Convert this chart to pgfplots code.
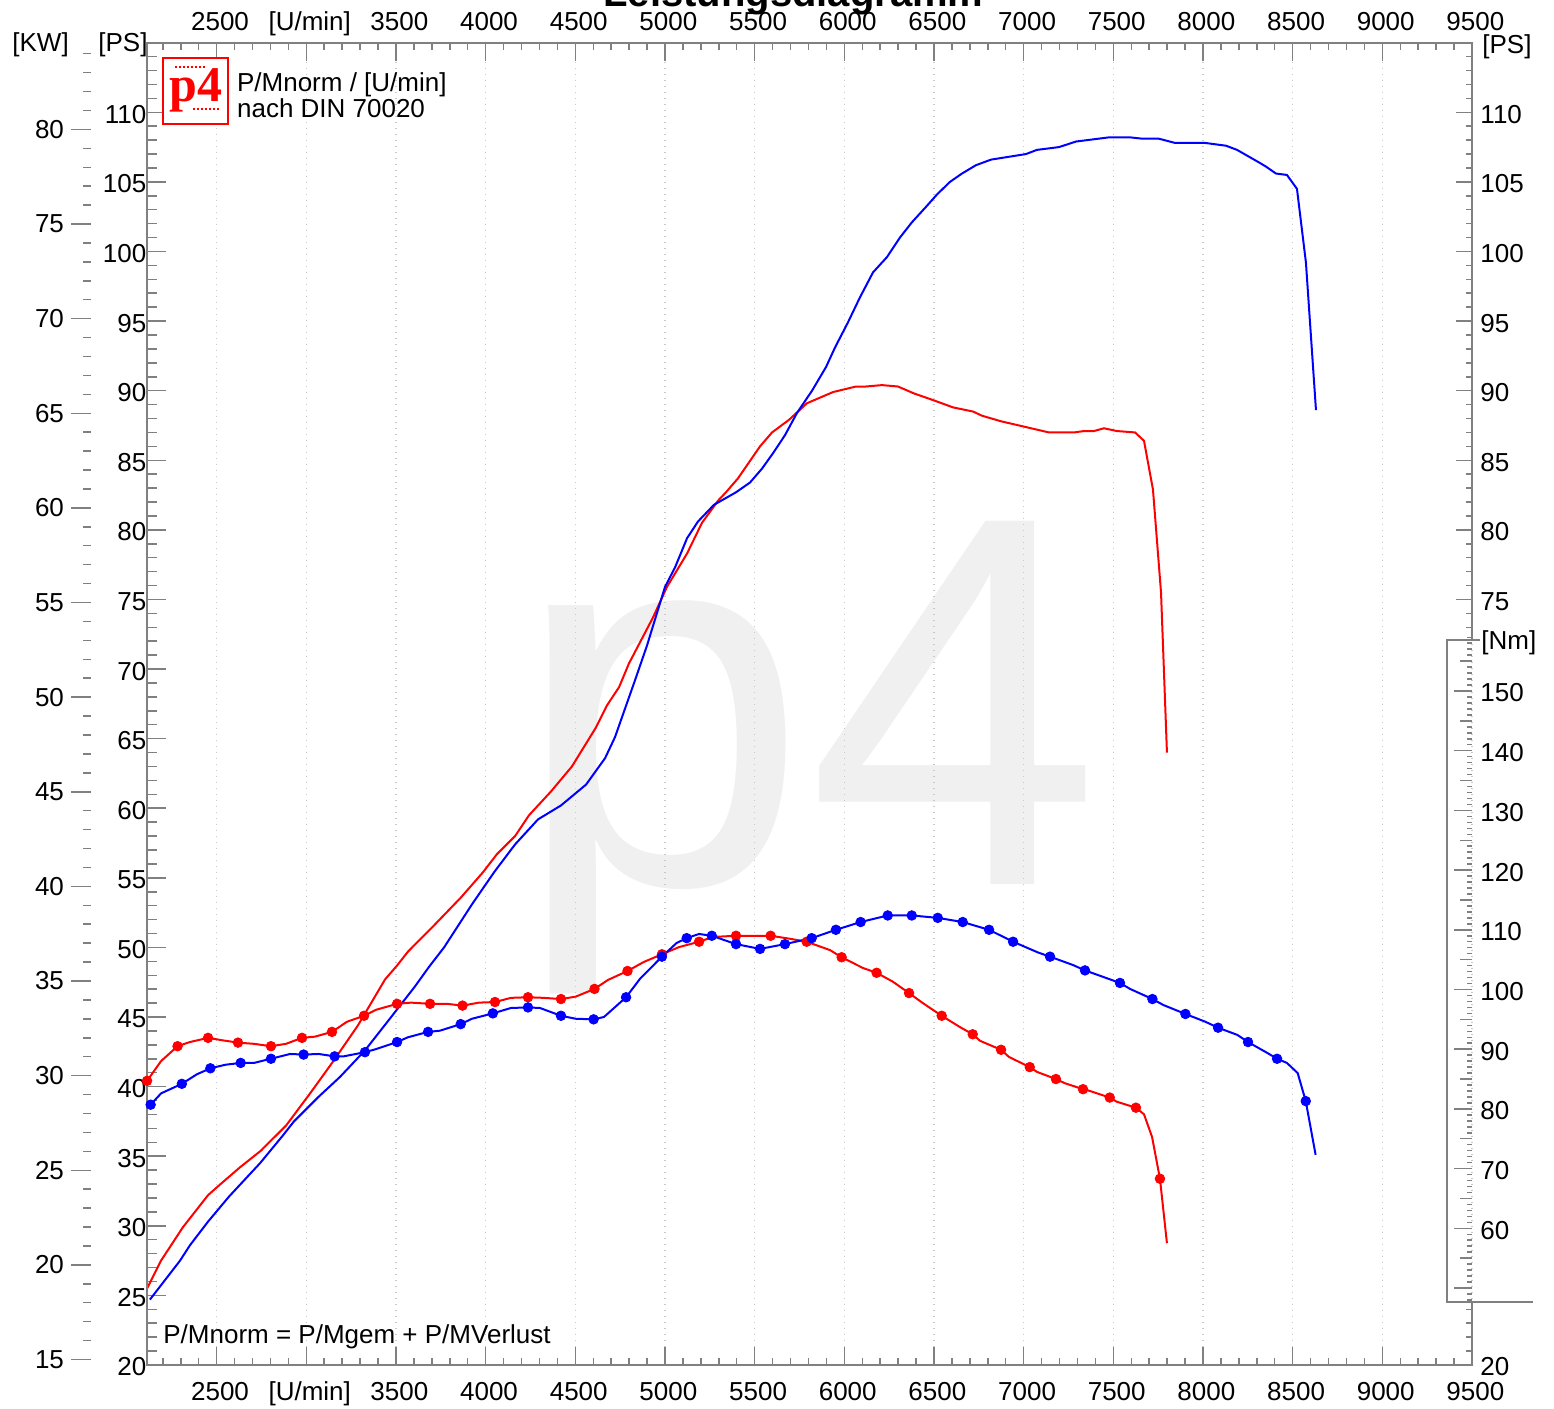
\documentclass[border=0pt]{standalone}
\usepackage{pgfplots}
\pgfplotsset{compat=1.18}
\usepackage{fontspec}
\setmainfont{Liberation Sans}
\newfontfamily\logofont{Liberation Serif}
\definecolor{axgray}{RGB}{128,128,128}
\definecolor{gridgray}{RGB}{200,200,200}
\definecolor{wm}{RGB}{240,240,240}
\definecolor{pblue}{RGB}{0,0,255}
\definecolor{pred}{RGB}{255,0,0}

\pgfplotsset{
  base/.style={
    scale only axis, width=662.65pt, height=661.15pt,
    at={(0,0)}, anchor=south west,
    xmin=2110, xmax=9500,
    axis line style={draw=none},
    tick style={axgray, line width=0.75pt},
    tick align=inside,
    font=\fontsize{13}{15}\selectfont,
    /pgf/number format/assume math mode=true,
    clip=false,
  },
  rpmticks/.style={
    xtick={2500,3000,...,9500},
    xticklabels={2500,{[U/min]},3500,4000,4500,5000,5500,6000,6500,7000,7500,8000,8500,9000,9500},
    minor xtick={2200,2300,...,9400},
    major tick length=9pt, minor tick length=3.5pt,
  },
}

\begin{document}
\begin{tikzpicture}
% watermark
\node[anchor=base west, inner sep=0, text=wm, font=\fontsize{264}{264}\selectfont] at (183.5pt,240pt) {p4};

% bottom rpm axis with grid
\begin{axis}[base, rpmticks, ymin=20, ymax=115, hide y axis,
  axis x line*=bottom,
  xmajorgrids, grid style={gridgray, dash pattern=on 0.6pt off 2.4pt, line width=0.6pt},
  xticklabel style={text height=9.5pt, text depth=0pt, yshift=-4.5pt, xshift=1.7pt}]
\end{axis}

% top rpm axis
\begin{axis}[base, rpmticks, ymin=20, ymax=115, hide y axis,
  axis x line*=top,
  xticklabel style={text height=9.5pt, text depth=0pt, yshift=2.4pt, xshift=1.7pt}]
\end{axis}

% left PS axis with power curves
\begin{axis}[base, ymin=20, ymax=115, hide x axis,
  axis y line*=left,
  ytick={20,25,...,110}, minor ytick={21,22,...,114},
  major tick length=9.5pt, minor tick length=5pt,
  yticklabel style={xshift=3.3pt, yshift=-1pt}]
\addplot[pred, line width=1pt] coordinates {
(2112,25.5)(2190,27.5)(2312,29.9)(2452,32.2)(2513,32.9)(2630,34.2)(2747,35.4)(2809,36.2)(2887,37.2)(3026,39.6)(3149,41.8)(3288,44.4)(3439,47.7)(3506,48.7)(3567,49.7)(3706,51.5)(3863,53.6)(3985,55.4)(4063,56.7)(4164,58.0)(4242,59.5)(4364,61.2)(4481,63.0)(4615,65.8)(4677,67.4)(4744,68.7)(4799,70.4)(4933,73.7)(5011,75.9)(5123,78.3)(5206,80.5)(5296,82.1)(5340,82.7)(5407,83.7)(5530,86.0)(5597,87.0)(5691,87.9)(5792,89.1)(5937,89.9)(6065,90.3)(6121,90.3)(6210,90.4)(6299,90.3)(6389,89.8)(6500,89.3)(6606,88.8)(6718,88.5)(6768,88.2)(6874,87.8)(6941,87.6)(7041,87.3)(7141,87.0)(7281,87.0)(7336,87.1)(7392,87.1)(7448,87.3)(7520,87.1)(7621,87.0)(7671,86.4)(7721,82.9)(7766,75.5)(7799,64.0)
};
\addplot[pblue, line width=1pt] coordinates {
(2128,24.7)(2212,26.1)(2296,27.5)(2351,28.6)(2452,30.3)(2569,32.1)(2742,34.5)(2870,36.5)(2931,37.5)(3071,39.3)(3188,40.7)(3327,42.6)(3467,44.9)(3606,47.2)(3684,48.6)(3768,50.0)(3924,53.1)(4047,55.4)(4164,57.4)(4292,59.2)(4420,60.2)(4560,61.7)(4666,63.6)(4721,65.1)(4833,69.2)(4900,71.7)(5000,75.9)(5056,77.3)(5123,79.4)(5184,80.6)(5273,81.8)(5396,82.7)(5474,83.4)(5541,84.4)(5602,85.5)(5669,86.8)(5736,88.4)(5820,90.0)(5898,91.7)(5948,93.1)(6020,94.9)(6087,96.7)(6160,98.5)(6238,99.6)(6310,101.0)(6377,102.1)(6455,103.2)(6517,104.1)(6589,105.0)(6656,105.6)(6734,106.2)(6818,106.6)(7013,107.0)(7074,107.3)(7197,107.5)(7292,107.9)(7476,108.2)(7593,108.2)(7665,108.1)(7755,108.1)(7844,107.8)(8011,107.8)(8128,107.6)(8190,107.3)(8312,106.4)(8351,106.1)(8407,105.6)(8468,105.5)(8524,104.5)(8574,99.2)(8630,88.6)
};
\end{axis}

% right PS axis
\begin{axis}[base, ymin=20, ymax=115, hide x axis,
  axis y line*=right,
  ytick={20,75,80,...,110}, minor ytick={21,22,23,24,73,74,...,114},
  major tick length=8pt, minor tick length=3pt,
  yticklabel style={xshift=0.7pt, yshift=-1pt}]
\end{axis}

% torque axis (Nm) with torque curves
\begin{axis}[base, ymin=37.1, ymax=258.6, hide x axis,
  axis y line*=right,
  ytick={50,60,...,150}, yticklabels={,60,70,80,90,100,110,120,130,140,150},
  minor ytick={48,49,...,159},
  extra y ticks={55,65,...,155}, extra y tick labels={},
  extra y tick style={major tick length=6pt},
  major tick length=9pt, minor tick length=2.5pt,
  yticklabel style={xshift=0.7pt, yshift=-1pt}]
\addplot[pred, line width=1pt] coordinates {
(2112,84.7)(2190,88.0)(2282,90.5)(2351,91.2)(2452,91.9)(2530,91.5)(2619,91.1)(2708,90.9)(2803,90.5)(2887,90.9)(2976,91.9)(3048,92.1)(3143,92.9)(3227,94.6)(3322,95.6)(3389,96.6)(3506,97.6)(3584,97.8)(3690,97.6)(3784,97.6)(3871,97.3)(3963,97.8)(4052,97.9)(4141,98.6)(4236,98.7)(4323,98.6)(4420,98.4)(4502,98.8)(4607,100.1)(4682,101.6)(4791,103.1)(4881,104.6)(4983,105.9)(5078,107.1)(5190,108.0)(5268,108.8)(5396,109.0)(5491,109.0)(5589,109.0)(5697,108.5)(5790,108.0)(5920,106.6)(5985,105.4)(6104,103.6)(6180,102.8)(6271,101.3)(6361,99.4)(6439,97.7)(6543,95.6)(6645,93.7)(6716,92.5)(6757,91.4)(6874,89.9)(6918,88.7)(7034,87.0)(7074,86.2)(7180,85.0)(7230,84.3)(7331,83.3)(7370,83.0)(7480,81.9)(7519,81.2)(7626,80.2)(7671,79.1)(7716,75.3)(7760,68.3)(7799,57.5)
};
\addplot[only marks, mark=*, mark size=2.4pt, pred] coordinates {
(2112,84.7)(2282,90.5)(2452,91.9)(2619,91.1)(2803,90.5)(2976,91.9)(3143,92.9)(3322,95.6)(3506,97.6)(3690,97.6)(3871,97.3)(4052,97.9)(4236,98.7)(4420,98.4)(4607,100.1)(4791,103.1)(4983,105.9)(5190,108.0)(5396,109.0)(5589,109.0)(5790,108.0)(5985,105.4)(6180,102.8)(6361,99.4)(6543,95.6)(6716,92.5)(6874,89.9)(7034,87.0)(7180,85.0)(7331,83.3)(7480,81.9)(7626,80.2)(7760,68.3)
};
\addplot[pblue, line width=1pt] coordinates {
(2132,80.7)(2190,82.6)(2306,84.2)(2390,85.8)(2465,86.8)(2550,87.4)(2634,87.7)(2708,87.7)(2803,88.4)(2909,89.2)(2985,89.1)(3069,89.2)(3158,88.8)(3208,88.8)(3327,89.5)(3387,90.0)(3506,91.2)(3567,92.0)(3679,92.9)(3745,93.1)(3861,94.2)(3924,95.1)(4040,96.0)(4141,96.9)(4236,97.0)(4303,96.9)(4420,95.6)(4502,95.1)(4602,95.0)(4660,95.4)(4783,98.7)(4861,101.8)(4983,105.5)(5065,107.8)(5121,108.6)(5190,109.3)(5261,109.0)(5396,107.6)(5530,106.8)(5669,107.6)(5818,108.6)(5953,110.0)(6091,111.3)(6242,112.4)(6376,112.4)(6521,112.0)(6660,111.3)(6807,110.0)(6941,108.0)(7080,106.2)(7147,105.5)(7275,104.1)(7342,103.2)(7537,101.1)(7593,100.1)(7718,98.4)(7779,97.4)(7902,95.9)(8013,94.6)(8084,93.6)(8191,92.4)(8251,91.2)(8357,89.4)(8413,88.4)(8468,87.7)(8528,86.0)(8573,81.3)(8628,72.3)
};
\addplot[only marks, mark=*, mark size=2.4pt, pblue] coordinates {
(2132,80.7)(2306,84.2)(2465,86.8)(2634,87.7)(2803,88.4)(2985,89.1)(3158,88.8)(3327,89.5)(3506,91.2)(3679,92.9)(3861,94.2)(4040,96.0)(4236,97.0)(4420,95.6)(4602,95.0)(4783,98.7)(4983,105.5)(5121,108.6)(5261,109.0)(5396,107.6)(5530,106.8)(5669,107.6)(5818,108.6)(5953,110.0)(6091,111.3)(6242,112.4)(6376,112.4)(6521,112.0)(6660,111.3)(6807,110.0)(6941,108.0)(7147,105.5)(7342,103.2)(7537,101.1)(7718,98.4)(7902,95.9)(8084,93.6)(8251,91.2)(8413,88.4)(8573,81.3)
};
% frame, with the right side interrupted by the Nm scale box
\draw[axgray, line width=1.1pt] (rel axis cs:1,0.0476) -- (rel axis cs:1,0) -- (rel axis cs:0,0) -- (rel axis cs:0,1) -- (rel axis cs:1,1) -- (rel axis cs:1,0.5483);
\draw[axgray, line width=1.1pt] (rel axis cs:1.006,0.5483) -- (rel axis cs:0.9811,0.5483) -- (rel axis cs:0.9811,0.0476) -- (rel axis cs:1.0457,0.0476);
\end{axis}

% kW scale
\begin{axis}[base, at={(-27.85pt,0)}, width=1pt, ymin=14.710, ymax=84.582, hide x axis,
  axis y line*=left,
  ytick={15,20,...,80}, minor ytick={15,16,...,84},
  tick align=outside,
  major tick length=10pt, minor tick length=4pt]
\end{axis}

% texts
\node[anchor=base, font=\fontsize{20}{24}\selectfont\bfseries] at (323.4pt,679pt) {Leistungsdiagramm};
\node[anchor=west, inner sep=0, font=\fontsize{13}{15}\selectfont] at (-67.35pt,660pt) {[KW]};
\node[anchor=west, inner sep=0, font=\fontsize{13}{15}\selectfont] at (-24.35pt,660pt) {[PS]};
\node[anchor=west, inner sep=0, font=\fontsize{13}{15}\selectfont] at (667.65pt,659pt) {[PS]};
\node[anchor=west, inner sep=0, font=\fontsize{13}{15}\selectfont] at (667.15pt,361pt) {[Nm]};
\node[anchor=north west, inner sep=0, align=left, font=\fontsize{13}{13}\selectfont] at (45pt,646.6pt) {P/Mnorm / [U/min]\\nach DIN 70020};
\node[anchor=base west, inner sep=0, font=\fontsize{13}{15}\selectfont] at (8.15pt,10.5pt) {P/Mnorm = P/Mgem + P/MVerlust};
% logo
\node[draw=pred, fill=white, line width=0.9pt, minimum width=32.5pt, minimum height=33pt, inner sep=0] at (24.4pt,637pt) {};
\node[text=pred, inner sep=0, font=\logofont\bfseries\fontsize{25}{25}\selectfont] at (24.6pt,637.5pt) {p4};
\draw[pred, line width=1pt, dash pattern=on 1pt off 1pt] (14pt,648.8pt) -- (30pt,648.8pt);
\draw[pred, line width=0.8pt, dash pattern=on 1pt off 1pt] (23pt,628pt) -- (37pt,628pt);

\pgfresetboundingbox
\useasboundingbox (-73.35pt,-22pt) rectangle (703.65pt,682.5pt);
\end{tikzpicture}
\end{document}
